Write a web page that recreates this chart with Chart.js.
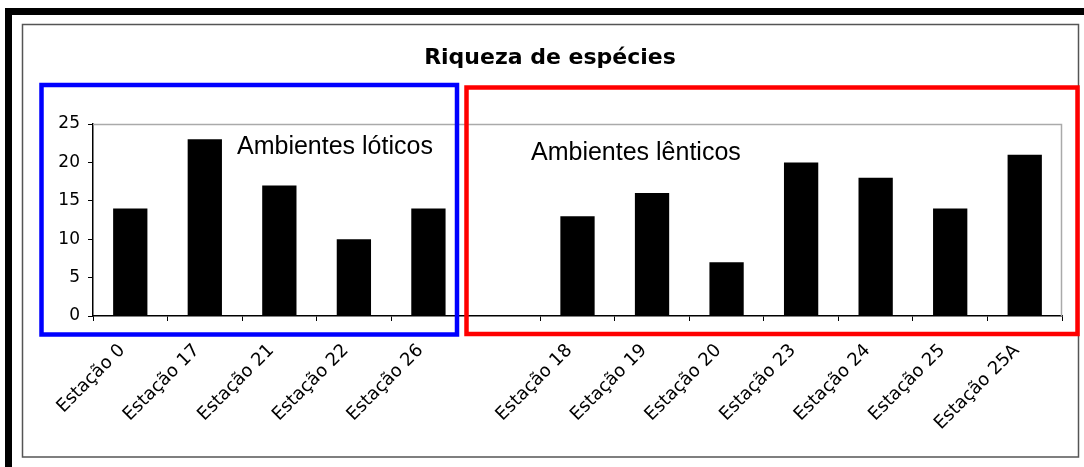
<!DOCTYPE html>
<html><head><meta charset="utf-8">
<script src="https://cdn.jsdelivr.net/npm/chart.js@4/dist/chart.umd.min.js"></script>
<style>html,body{margin:0;padding:0;background:#fff;overflow:hidden}#wrap{width:1084px;height:467px;position:relative}</style>
</head><body><div id="wrap"><canvas id="c" width="1084" height="467"></canvas></div>
<script>
// ---- data ----
const categories = ['Estação 0','Estação 17','Estação 21','Estação 22','Estação 26','','Estação 18','Estação 19','Estação 20','Estação 23','Estação 24','Estação 25','Estação 25A'];
const riqueza = [14,23,17,10,14,null,13,16,7,20,18,14,21];
const yTicks = [0,5,10,15,20,25];
const chartTitle = 'Riqueza de espécies';
const groupLabels = ['Ambientes lóticos','Ambientes lênticos'];

// ---- decoration ----
const decor = {
  id: 'decor',
  beforeDraw(chart) {
    const ctx = chart.ctx;
    ctx.save();
    ctx.fillStyle = '#fff';
    ctx.fillRect(0, 0, chart.width, chart.height);
    // outer thick black frame (cropped at right/bottom)
    ctx.strokeStyle = '#000';
    ctx.lineWidth = 7;
    ctx.strokeRect(8.5, 11.5, 1200, 600);
    // inner gray frame
    ctx.strokeStyle = '#555';
    ctx.lineWidth = 1.5;
    ctx.strokeRect(22.5, 24.5, 1056, 432.5);
    ctx.restore();
  },
  afterDraw(chart) {
    const ctx = chart.ctx;
    const a = chart.chartArea;
    ctx.save();
    // plot frame top/right in gray
    ctx.strokeStyle = '#aaa';
    ctx.lineWidth = 1.5;
    ctx.beginPath();
    ctx.moveTo(a.left, a.top + 0.5);
    ctx.lineTo(a.right - 0.5, a.top + 0.5);
    ctx.lineTo(a.right - 0.5, a.bottom);
    ctx.stroke();
    // title
    ctx.fillStyle = '#000';
    ctx.font = 'bold 22px "DejaVu Sans"';
    ctx.textAlign = 'center';
    ctx.textBaseline = 'alphabetic';
    ctx.fillText(chartTitle, 550, 64);
    // group boxes
    ctx.lineWidth = 4.5;
    ctx.strokeStyle = '#0000ff';
    ctx.strokeRect(41.5, 85, 415.5, 249.5);
    ctx.strokeStyle = '#ff0000';
    ctx.strokeRect(466.5, 87.5, 611, 246.5);
    // group labels
    ctx.font = '25px "Liberation Sans"';
    ctx.textAlign = 'left';
    ctx.fillStyle = '#000';
    ctx.fillText(groupLabels[0], 237, 154);
    ctx.fillText(groupLabels[1], 531, 160);
    ctx.restore();
  }
};

new Chart(document.getElementById('c'), {
  type: 'bar',
  data: {
    labels: categories,
    datasets: [{
      data: riqueza,
      backgroundColor: '#000',
      borderWidth: 0,
      barPercentage: 0.46,
      categoryPercentage: 1.0
    }]
  },
  options: {
    responsive: false,
    animation: false,
    layout: { padding: { left: 0, top: 124, right: 22, bottom: 0 } },
    plugins: { legend: { display: false }, title: { display: false }, tooltip: { enabled: false } },
    scales: {
      x: {
        grid: { display: true, drawOnChartArea: false, drawTicks: true, tickLength: 5, color: '#000', offset: true },
        border: { display: true, color: '#000', width: 1.5 },
        ticks: {
          color: '#000',
          font: { family: 'DejaVu Sans', size: 18 },
          minRotation: 45, maxRotation: 45,
          autoSkip: false,
          padding: 19,
          labelOffset: -8
        },
        afterFit(s) { s.height = 151; }
      },
      y: {
        min: 0, max: 25,
        afterBuildTicks(s) { s.ticks = yTicks.map(v => ({ value: v })); },
        grid: { display: true, drawOnChartArea: false, drawTicks: true, tickLength: 5, color: '#000' },
        border: { display: true, color: '#000', width: 1.5 },
        ticks: { color: '#000', font: { family: 'DejaVu Sans', size: 17 }, padding: 8 },
        afterFit(s) { s.width = 93; }
      }
    }
  },
  plugins: [decor]
});
</script>
</body></html>
